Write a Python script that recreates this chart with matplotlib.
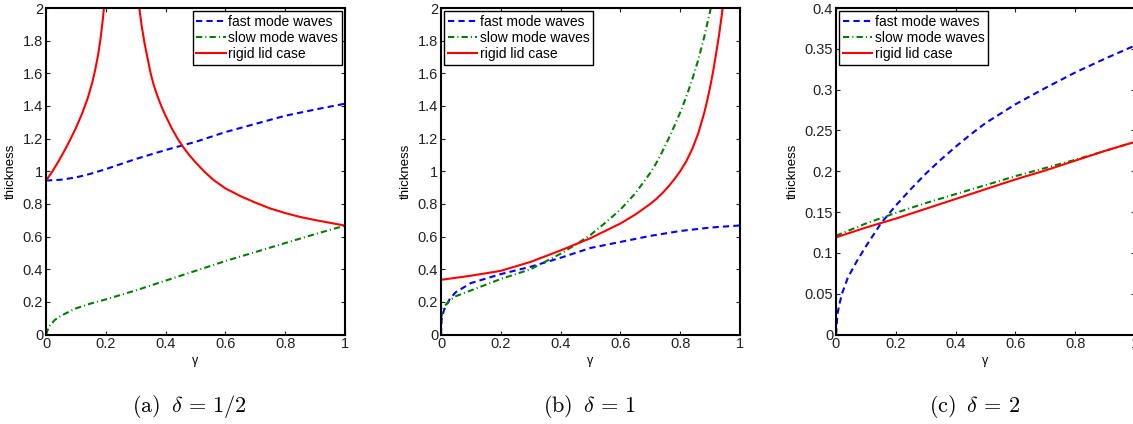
import matplotlib
matplotlib.use('Agg')
import matplotlib.pyplot as plt
import numpy as np
from matplotlib.ticker import FuncFormatter, MultipleLocator

plt.rcParams['font.family'] = ['Liberation Sans', 'DejaVu Sans']
plt.rcParams['mathtext.fontset'] = 'cm'

# (a) delta = 1/2
gam_a_fast = [0, 0.05, 0.1, 0.15, 0.2, 0.3, 0.4, 0.5, 0.6, 0.7, 0.8, 0.9, 1.0]
fast_a = [0.943, 0.948, 0.962, 0.985, 1.013, 1.075, 1.13, 1.18, 1.24, 1.29, 1.34, 1.378, 1.414]
gam_a_slow = [0, 0.01, 0.03, 0.05, 0.1, 0.15, 0.2, 0.3, 0.4, 0.5, 0.6, 0.7, 0.8, 0.9, 1.0]
slow_a = [0.0, 0.05, 0.09, 0.115, 0.16, 0.19, 0.215, 0.27, 0.33, 0.39, 0.45, 0.505, 0.56, 0.615, 0.667]
gam_a_rig1 = [0, 0.02, 0.04, 0.06, 0.08, 0.1, 0.12, 0.14, 0.155, 0.165, 0.175, 0.183, 0.19, 0.196]
rig_a1 = [0.943, 0.995, 1.055, 1.12, 1.19, 1.265, 1.35, 1.45, 1.545, 1.625, 1.72, 1.82, 1.93, 2.04]
gam_a_rig2 = [0.306, 0.312, 0.32, 0.33, 0.34, 0.35, 0.36, 0.37, 0.38, 0.39, 0.4, 0.42, 0.44, 0.46,
              0.48, 0.5, 0.53, 0.56, 0.6, 0.65, 0.7, 0.75, 0.8, 0.85, 0.9, 0.95, 1.0]
rig_a2 = [2.1, 2.0, 1.89, 1.78, 1.69, 1.60, 1.53, 1.475, 1.425, 1.38, 1.34, 1.265, 1.20, 1.145,
          1.097, 1.055, 0.997, 0.947, 0.895, 0.848, 0.808, 0.772, 0.744, 0.72, 0.701, 0.684, 0.667]

# (b) delta = 1
gam_b_fast = [0, 0.002, 0.01, 0.03, 0.05, 0.1, 0.2, 0.3, 0.4, 0.5, 0.6, 0.7, 0.8, 0.9, 1.0]
fast_b = [0, 0.09, 0.15, 0.22, 0.26, 0.315, 0.37, 0.415, 0.47, 0.53, 0.567, 0.604, 0.634, 0.655, 0.668]
gam_b_slow = [0, 0.01, 0.03, 0.05, 0.1, 0.2, 0.3, 0.4, 0.45, 0.5, 0.55, 0.6, 0.65, 0.7, 0.72, 0.74,
              0.76, 0.78, 0.8, 0.82, 0.84, 0.86, 0.88, 0.9, 0.91]
slow_b = [0.1, 0.17, 0.21, 0.235, 0.27, 0.34, 0.40, 0.495, 0.55, 0.61, 0.685, 0.765, 0.865, 0.99, 1.05, 1.12,
          1.195, 1.275, 1.36, 1.455, 1.56, 1.68, 1.82, 1.98, 2.07]
gam_b_rig = [0, 0.1, 0.2, 0.3, 0.4, 0.5, 0.6, 0.65, 0.7, 0.72, 0.74, 0.76, 0.78, 0.8, 0.82, 0.84, 0.86,
             0.88, 0.89, 0.9, 0.91, 0.92, 0.93, 0.94, 0.95]
rig_b = [0.335, 0.36, 0.39, 0.445, 0.515, 0.59, 0.68, 0.735, 0.80, 0.83, 0.865, 0.905, 0.95, 1.0, 1.06,
         1.135, 1.23, 1.355, 1.43, 1.515, 1.61, 1.72, 1.835, 1.97, 2.12]

# (c) delta = 2
gam_c_fast = [0, 0.005, 0.01, 0.02, 0.04, 0.07, 0.1, 0.15, 0.2, 0.25, 0.3, 0.35, 0.4, 0.45, 0.5,
              0.6, 0.7, 0.8, 0.9, 1.0]
fast_c = [0, 0.025, 0.035, 0.05, 0.07, 0.09, 0.108, 0.136, 0.158, 0.178, 0.197, 0.214, 0.23, 0.245, 0.259,
          0.282, 0.302, 0.321, 0.338, 0.354]
gam_c = [0, 0.1, 0.2, 0.3, 0.4, 0.5, 0.6, 0.7, 0.8, 0.9, 1.0]
slow_c = [0.121, 0.136, 0.149, 0.161, 0.172, 0.183, 0.194, 0.204, 0.214, 0.225, 0.236]
rig_c = [0.119, 0.131, 0.142, 0.154, 0.166, 0.178, 0.19, 0.201, 0.213, 0.225, 0.236]

captions = [r'$\mathrm{(a)}\;\;\delta\, =\, 1/2$', r'$\mathrm{(b)}\;\;\delta\, =\, 1$',
            r'$\mathrm{(c)}\;\;\delta\, =\, 2$']
caption_x = [189.5, 589.5, 975]
labels = ['fast mode waves', 'slow mode waves', 'rigid lid case']

W, H = 1133, 424
fig = plt.figure(figsize=(W / 100, H / 100), dpi=100)
lefts = [46, 441, 836]
axes = [fig.add_axes([l / W, (H - 334.5) / H, 299 / W, 326.5 / H]) for l in lefts]

fast_kw = dict(color='blue', lw=1.5, dashes=(3, 2))
slow_kw = dict(color=(0, 0.5, 0), lw=1.5, dashes=(3, 1.5, 0.5, 1.5))
rig_kw = dict(color='red', lw=1.5)

ax = axes[0]
ax.plot(gam_a_fast, fast_a, label=labels[0], **fast_kw)
ax.plot(gam_a_slow, slow_a, label=labels[1], **slow_kw)
ax.plot(gam_a_rig1, rig_a1, label=labels[2], **rig_kw)
ax.plot(gam_a_rig2, rig_a2, **rig_kw)

ax = axes[1]
ax.plot(gam_b_fast, fast_b, label=labels[0], **fast_kw)
ax.plot(gam_b_slow, slow_b, label=labels[1], **slow_kw)
ax.plot(gam_b_rig, rig_b, label=labels[2], **rig_kw)

ax = axes[2]
ax.plot(gam_c_fast, fast_c, label=labels[0], **fast_kw)
ax.plot(gam_c, slow_c, label=labels[1], **slow_kw)
ax.plot(gam_c, rig_c, label=labels[2], **rig_kw)

fmt = FuncFormatter(lambda v, p: '%g' % round(v, 4))
ylims = [(0, 2, 0.2), (0, 2, 0.2), (0, 0.4, 0.05)]
locs = ['upper right', 'upper left', 'upper left']
for i, ax in enumerate(axes):
    lo, hi, st = ylims[i]
    ax.set_xlim(0, 1)
    ax.set_ylim(lo, hi)
    ax.xaxis.set_major_locator(MultipleLocator(0.2))
    ax.yaxis.set_major_locator(MultipleLocator(st))
    ax.xaxis.set_major_formatter(fmt)
    ax.yaxis.set_major_formatter(fmt)
    ax.tick_params(direction='in', top=True, right=True, length=3, width=0.8,
                   labelsize=10.5, pad=2, colors='#222222')
    for s in ax.spines.values():
        s.set_linewidth(1.5)
    ax.set_xlabel('γ', fontsize=9, labelpad=3)
    ax.set_ylabel('thickness', fontsize=9.5, labelpad=4)
    leg = ax.legend(loc=locs[i], fontsize=10, borderaxespad=0.25, borderpad=0.25,
                    labelspacing=0.15, handlelength=2.1, handletextpad=0.2,
                    fancybox=False, framealpha=1, edgecolor='black')
    leg.get_frame().set_linewidth(1.0)
    fig.text(caption_x[i] / W, (H - 407) / H, captions[i], fontsize=16,
             ha='center', va='center')

fig.savefig('out.png', dpi=100)
